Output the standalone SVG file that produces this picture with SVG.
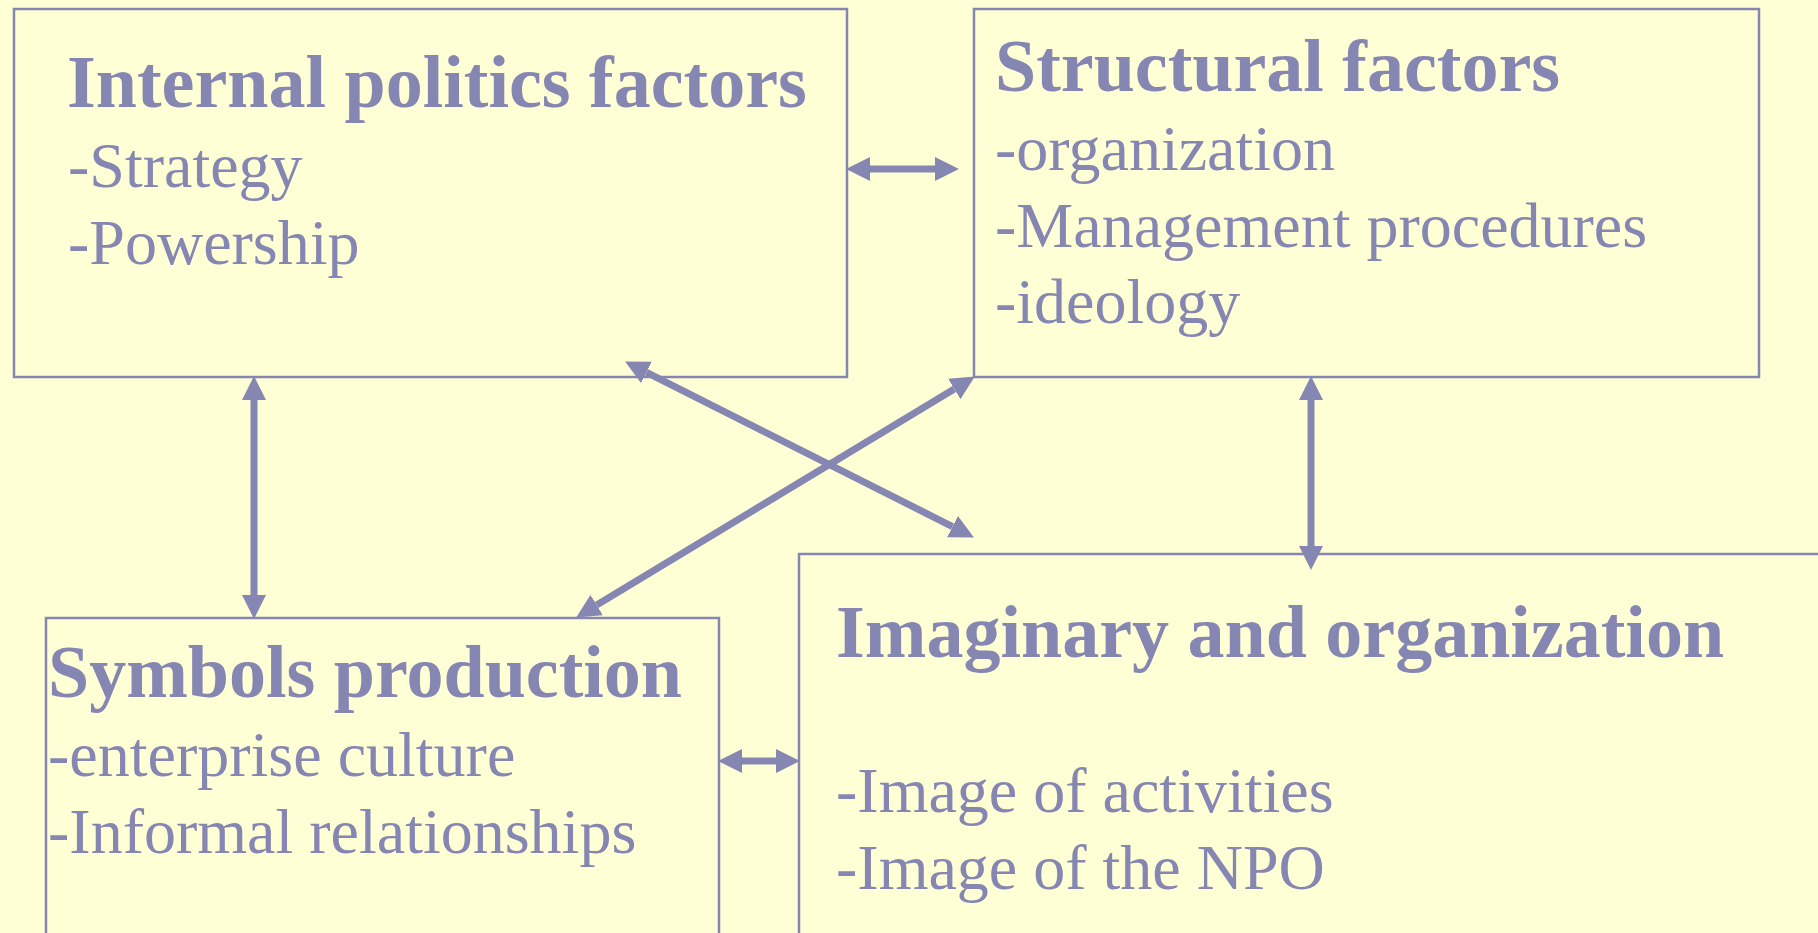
<svg xmlns="http://www.w3.org/2000/svg" width="1818" height="933" viewBox="0 0 1818 933">
<defs>
<style>
.box{fill:#FFFFD5;stroke:#8686B2;stroke-width:2.5}
.t{font-family:"Liberation Serif","Times New Roman",serif;font-weight:bold;font-size:74px;fill:#8686B2}
.b{font-family:"Liberation Serif","Times New Roman",serif;font-size:64px;fill:#8686B2}
.c{stroke:#8686B2;stroke-width:7;fill:none;marker-start:url(#ah);marker-end:url(#ah)}
</style>
<marker id="ah" markerUnits="userSpaceOnUse" markerWidth="24" markerHeight="24" refX="0" refY="11.5" orient="auto-start-reverse" viewBox="0 0 23 23">
<path d="M0,0 L23,11.5 L0,23 z" fill="#8686B2"/>
</marker>
</defs>
<rect width="1818" height="933" fill="#FFFFD5"/>
<g id="internal-politics">
<rect class="box" x="14" y="9" width="833" height="368"/>
<text class="t" x="67" y="107">Internal politics factors</text>
<text class="b" x="68" y="187">-Strategy</text>
<text class="b" x="68" y="264">-Powership</text>
</g>
<g id="structural">
<rect class="box" x="974" y="9" width="785" height="368"/>
<text class="t" x="995" y="91">Structural factors</text>
<text class="b" x="995" y="170">-organization</text>
<text class="b" x="995" y="247">-Management procedures</text>
<text class="b" x="995" y="323">-ideology</text>
</g>
<g id="symbols">
<rect class="box" x="46" y="618" width="673" height="340"/>
<text class="t" x="48" y="697">Symbols production</text>
<text class="b" x="48" y="776">-enterprise culture</text>
<text class="b" x="48" y="853">-Informal relationships</text>
</g>
<g id="imaginary">
<rect class="box" x="799" y="554" width="1040" height="400"/>
<text class="t" x="836" y="657">Imaginary and organization</text>
<text class="b" x="836" y="812">-Image of activities</text>
<text class="b" x="836" y="889">-Image of the NPO</text>
</g>
<g id="connectors">
<line class="c" x1="870" y1="169" x2="935" y2="169"/>
<line class="c" x1="254" y1="400" x2="254" y2="595"/>
<line class="c" x1="1311" y1="400" x2="1311" y2="546"/>
<line class="c" x1="646.5" y1="372.4" x2="952.5" y2="526.6"/>
<line class="c" x1="596.7" y1="605.1" x2="954.3" y2="388.9"/>
<line class="c" x1="742" y1="761" x2="776" y2="761"/>
</g>
</svg>
